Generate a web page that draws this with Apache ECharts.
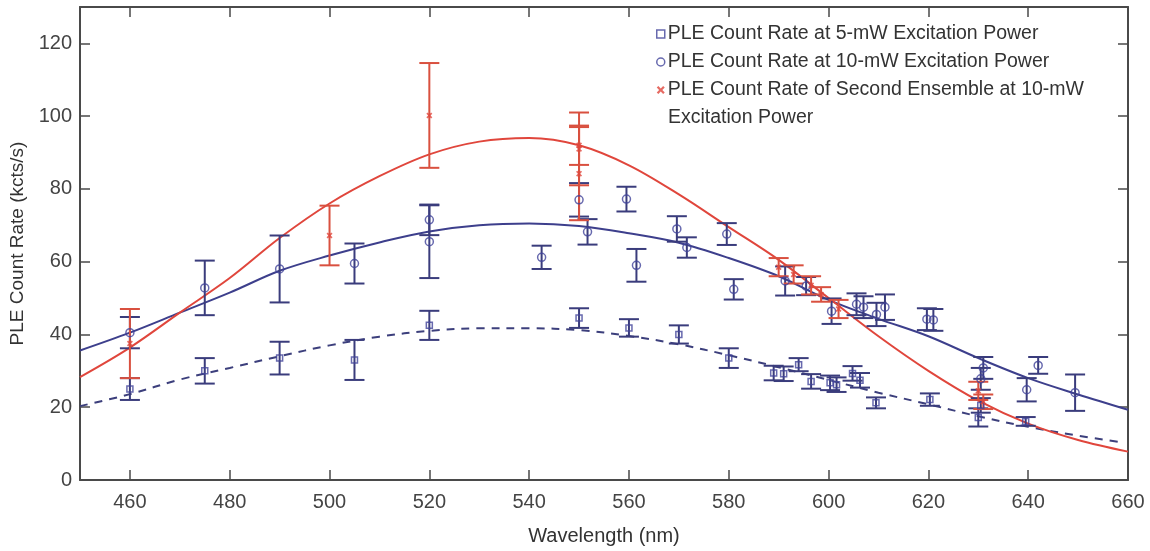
<!DOCTYPE html>
<html>
<head>
<meta charset="utf-8">
<script src="https://cdn.jsdelivr.net/npm/echarts@6/dist/echarts.min.js"></script>
<style>
  html, body { margin: 0; padding: 0; background: #fff; }
  #chart { width: 1150px; height: 551px; }
</style>
</head>
<body>
<div id="chart"></div>
<script>
// tick labels
var xTicks = [460, 480, 500, 520, 540, 560, 580, 600, 620, 640, 660];
var yTicks = [0, 20, 40, 60, 80, 100, 120];

// 5-mW excitation power (squares)
var x5 = [460, 475, 490, 505, 520, 550, 560, 570, 580, 589, 591, 594, 596.5, 600.3, 601.6, 604.8, 606.3, 609.5, 620.3, 630, 630.5, 639.5];
var y5 = [25, 30, 33.5, 33, 42.5, 44.5, 41.8, 40, 33.5, 29.4, 29.2, 31.7, 27.1, 26.7, 26.2, 29.3, 27.4, 21.2, 22.1, 17.2, 20.5, 16.1];
var e5 = [3, 3.5, 4.5, 5.5, 4, 2.7, 2.4, 2.5, 2.7, 2, 2, 1.8, 2, 2, 2, 2, 2, 1.5, 1.7, 2.5, 2, 1.2];

// 10-mW excitation power (circles)
var x10 = [460, 475, 490, 505, 520, 520, 542.5, 550, 551.7, 559.5, 561.5, 569.6, 571.6, 579.6, 581, 591.3, 595.5, 600.6, 605.6, 607, 609.6, 611.3, 619.7, 621, 630.5, 631, 639.7, 642, 649.4];
var y10 = [40.5, 52.8, 58, 59.5, 71.5, 65.5, 61.2, 77, 68.2, 77.2, 59, 69, 63.9, 67.6, 52.4, 54.7, 53.3, 46.4, 48.3, 47.5, 45.5, 47.5, 44.2, 44, 27.8, 30.8, 24.8, 31.5, 24];
var e10 = [4.3, 7.5, 9.2, 5.5, 4.2, 10, 3.2, 4.6, 3.5, 3.4, 4.5, 3.5, 2.8, 3, 2.8, 4, 2.5, 3.5, 3, 3, 3.2, 3.5, 3, 3, 3, 3, 3.2, 2.3, 5];

// second ensemble at 10 mW (crosses)
var xR = [460, 500, 520, 550, 550, 550, 590, 593, 596.5, 598.5, 602, 630, 631];
var yR = [37.5, 67.2, 100.2, 91, 84.2, 92, 58.5, 56.5, 53.5, 51, 47, 24.5, 21.5];
var eR = [9.5, 8.2, 14.4, 10, 12.8, 5.4, 2.5, 2.5, 2.5, 2, 2.5, 2.5, 2];

// fitted curves
var fitX = [450, 460, 470, 480, 490, 500, 510, 520, 530, 540, 550, 560, 570, 580, 590, 600, 610, 620, 630, 640, 650, 660];
var fit10 = [35.6, 40.5, 46, 51.5, 57.5, 61.7, 65.3, 68.3, 70, 70.5, 69.8, 67.8, 65.2, 61, 56, 49.5, 44.3, 39.5, 33.5, 28, 23.5, 19.3];
var fitRed = [28.3, 36.4, 46, 55.5, 66.5, 76, 83.5, 89.5, 93, 94, 92, 86.5, 78.5, 69.5, 60.5, 50, 39.5, 30, 21.8, 15.5, 11, 7.8];
var fit5X = [450, 460, 470, 480, 490, 500, 510, 520, 530, 540, 550, 560, 570, 580, 590, 600, 610, 620, 630, 640, 650, 658];
var fit5 = [20.3, 23.6, 27.6, 30.8, 34, 37, 39.4, 41, 41.7, 41.7, 41.2, 39.6, 37.3, 34.3, 31, 27.5, 24, 20.8, 17.5, 14.6, 12.2, 10.5];

var names = [
  'PLE Count Rate at 5-mW Excitation Power',
  'PLE Count Rate at 10-mW Excitation Power',
  'PLE Count Rate of Second Ensemble at 10-mW'
];

var BLUE = '#41439a';
var BAR = '#3a3c7c';
var RED = '#e0463c';
var FONT = 'Liberation Sans';
var CROSS = 'path://M2,0L5,3L8,0L10,2L7,5L10,8L8,10L5,7L2,10L0,8L3,5L0,2Z';

function zip(xs, ys) {
  return xs.map(function (x, i) { return [x, ys[i]]; });
}

// vertical error bar with caps
function errorBars(id, xs, ys, es, color) {
  return {
    type: 'custom',
    name: id,
    silent: true,
    z: 3,
    data: xs.map(function (x, i) { return [x, ys[i] - es[i], ys[i] + es[i]]; }),
    encode: { x: 0, y: [1, 2] },
    renderItem: function (params, api) {
      var lo = api.coord([api.value(0), api.value(1)]);
      var hi = api.coord([api.value(0), api.value(2)]);
      var w = 10;
      var st = { stroke: color, lineWidth: 2 };
      return {
        type: 'group',
        children: [
          { type: 'line', shape: { x1: lo[0], y1: lo[1], x2: hi[0], y2: hi[1] }, style: st },
          { type: 'line', shape: { x1: lo[0] - w, y1: lo[1], x2: lo[0] + w, y2: lo[1] }, style: st },
          { type: 'line', shape: { x1: hi[0] - w, y1: hi[1], x2: hi[0] + w, y2: hi[1] }, style: st }
        ]
      };
    }
  };
}

function fitLine(id, xs, ys, color, dashed) {
  return {
    type: 'line',
    name: id,
    silent: true,
    z: 2,
    showSymbol: false,
    smooth: 0.35,
    data: zip(xs, ys),
    lineStyle: { color: color, width: 2, type: dashed ? [8, 7] : 'solid' }
  };
}

var axisLine = { show: true, onZero: false, lineStyle: { color: '#4a4a4a', width: 2 } };
var tickStyle = { color: '#4a4a4a', width: 1.5 };

var option = {
  animation: false,
  backgroundColor: '#fff',
  textStyle: { fontFamily: FONT },
  grid: { left: 80, right: 22, top: 7, bottom: 71 },
  legend: {
    data: names,
    orient: 'vertical',
    left: 651,
    top: 15,
    itemGap: 0,
    itemWidth: 8,
    itemHeight: 8,
    itemStyle: { borderWidth: 1.5 },
    textStyle: { fontFamily: FONT, fontSize: 19.5, color: '#333', lineHeight: 28, padding: [0, 0, 0, -2] },
    selectedMode: false
  },
  graphic: [{
    type: 'text',
    left: 668,
    top: 108,
    style: { text: 'Excitation Power', fontFamily: FONT, fontSize: 19.5, fill: '#333' }
  }],
  xAxis: [{
    type: 'value', min: 450, max: 660, position: 'bottom',
    name: 'Wavelength (nm)', nameLocation: 'middle', nameGap: 46,
    nameTextStyle: { fontFamily: FONT, fontSize: 20, color: '#333' },
    axisLine: axisLine,
    axisTick: { inside: true, length: 10, customValues: xTicks, lineStyle: tickStyle },
    axisLabel: { customValues: xTicks, fontFamily: FONT, fontSize: 20, color: '#444', margin: 12 },
    splitLine: { show: false }
  }, {
    type: 'value', min: 450, max: 660, position: 'top',
    axisLine: axisLine,
    axisTick: { inside: true, length: 10, customValues: xTicks.slice(0, -1), lineStyle: tickStyle },
    axisLabel: { show: false },
    splitLine: { show: false }
  }],
  yAxis: [{
    type: 'value', min: 0, max: 130, position: 'left',
    name: 'PLE Count Rate (kcts/s)', nameLocation: 'middle', nameGap: 51,
    nameTextStyle: { fontFamily: FONT, fontSize: 19, color: '#333' },
    axisLine: axisLine,
    axisTick: { inside: true, length: 10, customValues: yTicks, lineStyle: tickStyle },
    axisLabel: { customValues: yTicks, fontFamily: FONT, fontSize: 20, color: '#444', margin: 8 },
    splitLine: { show: false }
  }, {
    type: 'value', min: 0, max: 130, position: 'right',
    axisLine: axisLine,
    axisTick: { inside: true, length: 10, customValues: yTicks, lineStyle: tickStyle },
    axisLabel: { show: false },
    splitLine: { show: false }
  }],
  series: [
    fitLine('fit5', fit5X, fit5, '#3c3f7c', true),
    fitLine('fit10', fitX, fit10, '#3d3f8c', false),
    fitLine('fitRed', fitX, fitRed, RED, false),
    errorBars('bar5', x5, y5, e5, BAR),
    errorBars('bar10', x10, y10, e10, BAR),
    errorBars('barRed', xR, yR, eR, '#d9503f'),
    {
      type: 'scatter', name: names[0], z: 4,
      symbol: 'rect', symbolSize: 6,
      data: zip(x5, y5),
      itemStyle: { color: 'rgba(0,0,0,0)', borderColor: BLUE, borderWidth: 1.5 }
    },
    {
      type: 'scatter', name: names[1], z: 4,
      symbol: 'circle', symbolSize: 8,
      data: zip(x10, y10),
      itemStyle: { color: 'rgba(0,0,0,0)', borderColor: BLUE, borderWidth: 1.5 }
    },
    {
      type: 'scatter', name: names[2], z: 4,
      symbol: CROSS, symbolSize: 6,
      data: zip(xR, yR),
      itemStyle: { color: RED, borderWidth: 0 }
    }
  ]
};

var myChart = echarts.init(document.getElementById('chart'));
myChart.setOption(option);
</script>
</body>
</html>
